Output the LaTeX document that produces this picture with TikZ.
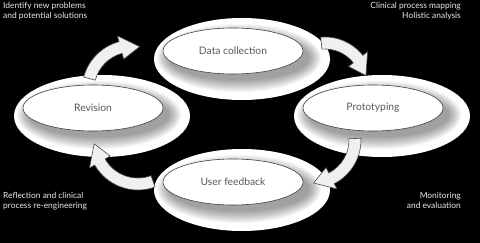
\documentclass[tikz,border=0pt]{standalone}
\usepackage{fontspec}
\setmainfont{Lato}
\usetikzlibrary{shapes.geometric}
\tikzset{
  halo/.style={fill=white},
  blurlayer/.style={fill=black, fill opacity=0.035},
  stage/.style={ellipse, draw=black!75, line width=0.6pt, fill=white,
    minimum width=140pt, minimum height=46pt, inner sep=0pt, text=black!65,
    font=\fontsize{10.3}{12}\selectfont},
  note/.style={text=black!8, font=\fontsize{8.4}{10.5}\selectfont, inner sep=0pt},
  cyc/.style={fill=black!6, draw=black!70, line width=0.6pt, line join=round}
}
\newcommand{\stageglow}[2]{%
  \fill[halo] ({#1+9},{#2-8}) ellipse [x radius=88, y radius=41];
}
\newcommand{\stageshadow}[2]{%
  \foreach \k in {0,...,11}{%
    \fill[blurlayer] ({#1+6},{#2-7}) ellipse [x radius={69+1.1*(12-\k)}, y radius={21+1.1*(12-\k)}];
  }%
}
\newcommand{\cycarrow}[8]{% cx, cy, a, b, r, w, hw, d
  \draw[cyc,shift={(#1,#2)}] ({#3}:{#5+#6}) arc[start angle=#3, end angle=#4, radius={#5+#6}]
    -- ({#4}:{#5+#7}) -- ({#4-#8}:{#5}) -- ({#4}:{#5-#7}) -- ({#4}:{#5-#6})
    arc[start angle=#4, end angle=#3, radius={#5-#6}] -- cycle;
}
\begin{document}
\begin{tikzpicture}[x=1pt,y=1pt]
  \fill[black] (0,0) rectangle (480,243);
  \useasboundingbox (0,0) rectangle (480,243);
  % glows
  \stageglow{233}{192}
  \stageglow{93}{135}
  \stageglow{373}{135}
  \stageglow{233}{61}
  \stageshadow{233}{192}
  \stageshadow{93}{135}
  \stageshadow{373}{135}
  \stageshadow{233}{61}
  % stages
  \node[stage] (data) at (233,192) {Data collection};
  \node[stage] (rev) at (93,135) {Revision};
  \node[stage] (proto) at (373,135) {Prototyping};
  \node[stage] (user) at (233,61) {User feedback};
  % arrows
  \cycarrow{132}{153}{165}{105}{44}{6}{12}{25}
  \cycarrow{325}{158}{95}{38}{42}{6}{12}{25}
  \cycarrow{312}{103}{2}{-63}{43}{6}{12}{25}
  \cycarrow{138}{103}{-70}{-150}{44}{6}{12}{25}
  % notes
  \node[note, anchor=north west, align=left] (n1) at (3,241) {Identify new problems\\and potential solutions};
  \node[note, anchor=north east, align=right] (n2) at (461,241) {Clinical process mapping\\Holistic analysis};
  \node[note, anchor=north west, align=left] (n3) at (3,51) {Reflection and clinical\\process re-engineering};
  \node[note, anchor=north east, align=right] (n4) at (461,51) {Monitoring\\and evaluation};
\end{tikzpicture}
\end{document}
